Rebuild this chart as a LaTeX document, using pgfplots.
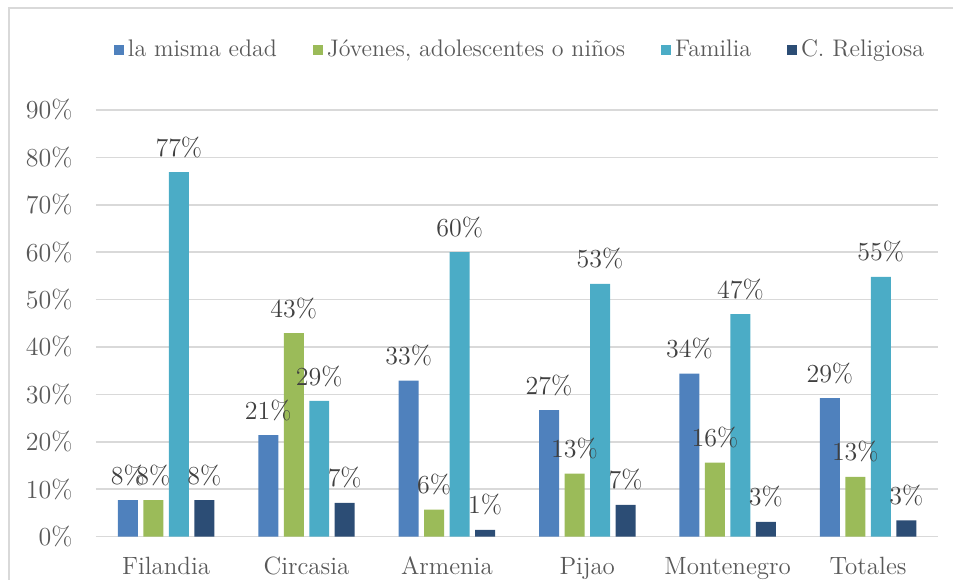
\documentclass[border=0pt]{standalone}
\usepackage{pgfplots}
\pgfplotsset{compat=1.18}
\definecolor{cA}{HTML}{4F81BD}
\definecolor{cB}{HTML}{9BBB59}
\definecolor{cC}{HTML}{4BACC6}
\definecolor{cD}{HTML}{2C4D75}
\definecolor{gridc}{HTML}{D9D9D9}
\definecolor{txt}{HTML}{595959}
\definecolor{lbl}{HTML}{404040}
\begin{document}
\begin{tikzpicture}
\begin{axis}[
  scale only axis, width=421.5pt, height=213.5pt,
  ybar=2.75pt, bar width=10pt,
  xmin=-0.5, xmax=5.5, ymin=0, ymax=90,
  xtick={0,1,2,3,4,5},
  xticklabels={Filandia,Circasia,Armenia,Pijao,Montenegro,Totales},
  ytick={0,10,...,90},
  yticklabel={\pgfmathprintnumber{\tick}\%},
  /pgf/number format/assume math mode=true,
  major tick length=0pt,
  axis line style={draw=none},
  ymajorgrids, grid style={gridc, line width=0.8pt},
  yticklabel style={anchor=east, inner sep=0pt, xshift=-11.5pt, font=\fontsize{13}{15}\selectfont, text=txt},
  xticklabel style={anchor=base, inner sep=0pt, yshift=-19pt, font=\fontsize{12.5}{14}\selectfont, text=txt},
  clip=false,
  nodes near coords={\pgfmathprintnumber[fixed,precision=0]{\pgfplotspointmeta}\%},
  every node near coord/.append style={font=\fontsize{13}{15}\selectfont, text=lbl, anchor=base, yshift=8pt, inner sep=0pt},
  legend columns=-1,
  legend style={at={(0.5047,1)}, anchor=center, yshift=30pt, draw=none, fill=none,
    font=\fontsize{12}{14}\selectfont, text=txt,
    /tikz/every even column/.append style={column sep=16pt}},
  legend image code/.code={\fill[#1] (0pt,-2.5pt) rectangle (5pt,2.5pt);},
]
\addplot[fill=cA, draw=none] coordinates {(0,7.7) (1,21.4) (2,32.9) (3,26.7) (4,34.4) (5,29.2)};
\addplot[fill=cB, draw=none] coordinates {(0,7.7) (1,42.9) (2,5.7) (3,13.3) (4,15.6) (5,12.6)};
\addplot[fill=cC, draw=none] coordinates {(0,76.9) (1,28.6) (2,60.0) (3,53.3) (4,46.9) (5,54.8)};
\addplot[fill=cD, draw=none] coordinates {(0,7.7) (1,7.1) (2,1.4) (3,6.7) (4,3.1) (5,3.4)};
\legend{la misma edad, Jóvenes{,} adolescentes o niños, Familia, C. Religiosa}
\coordinate (O) at (rel axis cs:0,0);
\end{axis}
\draw[gridc, line width=0.75pt] ([shift={(-43.5pt,-21.5pt)}]O) -- ([shift={(-43.5pt,264.5pt)}]O) -- ([shift={(429pt,264.5pt)}]O);
\path[use as bounding box] ([shift={(-48pt,-21.5pt)}]O) rectangle ([shift={(429pt,268.5pt)}]O);
\end{tikzpicture}
\end{document}
